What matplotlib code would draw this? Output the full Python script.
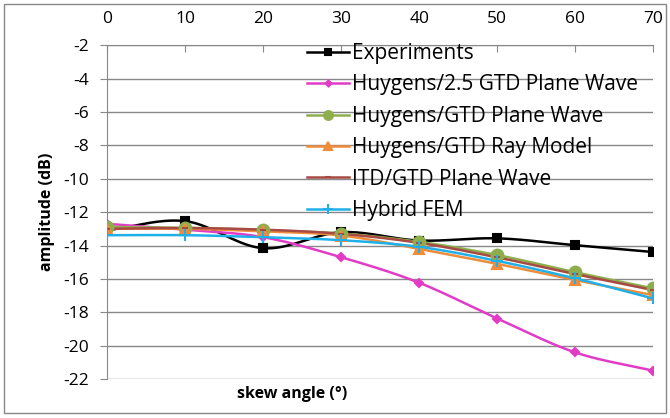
import numpy as np
import matplotlib
matplotlib.use("Agg")
import matplotlib.pyplot as plt
from matplotlib.patches import Rectangle

plt.rcParams['font.family'] = ['Open Sans', 'DejaVu Sans']
plt.rcParams['axes.unicode_minus'] = False

angles = [0, 10, 20, 30, 40, 50, 60, 70]
experiments = [-13.08, -12.54, -14.16, -13.2, -13.7, -13.57, -13.98, -14.39]
huygens25 = [-12.7, -13.05, -13.5, -14.7, -16.23, -18.37, -20.4, -21.5]
huygens_pw = [-12.88, -12.94, -13.08, -13.28, -13.78, -14.57, -15.6, -16.57]
huygens_ray = [-13.0, -13.0, -13.15, -13.4, -14.2, -15.1, -16.07, -16.97]
itd_pw = [-13.0, -12.95, -13.05, -13.3, -13.84, -14.71, -15.71, -16.67]
hybrid_fem = [-13.38, -13.38, -13.5, -13.68, -14.08, -14.92, -15.97, -17.17]

labels = ["Experiments", "Huygens/2.5 GTD Plane Wave", "Huygens/GTD Plane Wave",
          "Huygens/GTD Ray Model", "ITD/GTD Plane Wave", "Hybrid FEM"]
yticks = [-2, -4, -6, -8, -10, -12, -14, -16, -18, -20, -22]


def smooth(x, y, n=20):
    # Catmull-Rom rendering of a smoothed line (like spreadsheet "smoothed line")
    x = np.asarray(x, float); y = np.asarray(y, float)
    px = np.concatenate([[2 * x[0] - x[1]], x, [2 * x[-1] - x[-2]]])
    py = np.concatenate([[2 * y[0] - y[1]], y, [2 * y[-1] - y[-2]]])
    xs, ys = [], []
    t = np.linspace(0, 1, n, endpoint=False)
    for i in range(1, len(px) - 2):
        for arr, out in ((px, xs), (py, ys)):
            p0, p1, p2, p3 = arr[i - 1], arr[i], arr[i + 1], arr[i + 2]
            out.extend(0.5 * ((2 * p1) + (-p0 + p2) * t + (2 * p0 - 5 * p1 + 4 * p2 - p3) * t ** 2
                              + (-p0 + 3 * p1 - 3 * p2 + p3) * t ** 3))
    xs.append(x[-1]); ys.append(y[-1])
    return xs, ys


fig = plt.figure(figsize=(6.7, 4.18), dpi=100)
ax = fig.add_axes([0.16, 0.093, 0.815, 0.799])

series = [
    (experiments, '#000000', 's', 6),
    (huygens25, '#E23CC6', 'D', 4),
    (huygens_pw, '#8EAE4E', 'o', 8.5),
    (huygens_ray, '#EE8C3C', '^', 7),
    (itd_pw, '#A84A44', '_', 5),
    (hybrid_fem, '#1FB0EA', '+', 9),
]
handles = []
for (vals, c, m, ms), lab in zip(series, labels):
    sx, sy = smooth(angles, vals)
    ax.plot(sx, sy, color=c, lw=1.8, zorder=3)
    ax.plot(angles, vals, linestyle='none', marker=m, ms=ms, color=c,
            markeredgecolor=c, mew=1.5, zorder=4)
    h, = ax.plot([], [], color=c, lw=1.8, marker=m, ms=ms * 0.75, mew=1.5, label=lab)
    handles.append(h)

ax.set_xlim(0, 70)
ax.set_ylim(-22, -2)
ax.set_xticks(angles)
ax.set_yticks(yticks)
ax.xaxis.tick_top()
ax.tick_params(axis='x', direction='in', length=5, color='#888888', labelsize=12.5, pad=13)
ax.tick_params(axis='y', direction='out', length=5, color='#888888', labelsize=12.5, pad=8)
ax.yaxis.grid(True, color='#888888', lw=1)
for s in ['right', 'bottom']:
    ax.spines[s].set_visible(False)
for s in ['left', 'top']:
    ax.spines[s].set_color('#888888')
ax.set_axisbelow(True)

ax.set_ylabel('amplitude (dB)', fontsize=11.5, fontweight='bold', labelpad=6)
ax.text(0.339, -0.02, 'skew angle (°)', transform=ax.transAxes, ha='center', va='top',
        fontsize=11.5, fontweight='bold')

leg = ax.legend(handles=handles, loc='upper left', bbox_to_anchor=(0.34, 1.05), frameon=False,
                fontsize=15, handlelength=2.0, handletextpad=0.15, labelspacing=0.5,
                borderaxespad=0.3)

fig.patches.append(Rectangle((0.006, 0.012), 0.988, 0.978, transform=fig.transFigure,
                             fill=False, edgecolor='#888888', lw=1))
fig.savefig('out.png', dpi=100)
